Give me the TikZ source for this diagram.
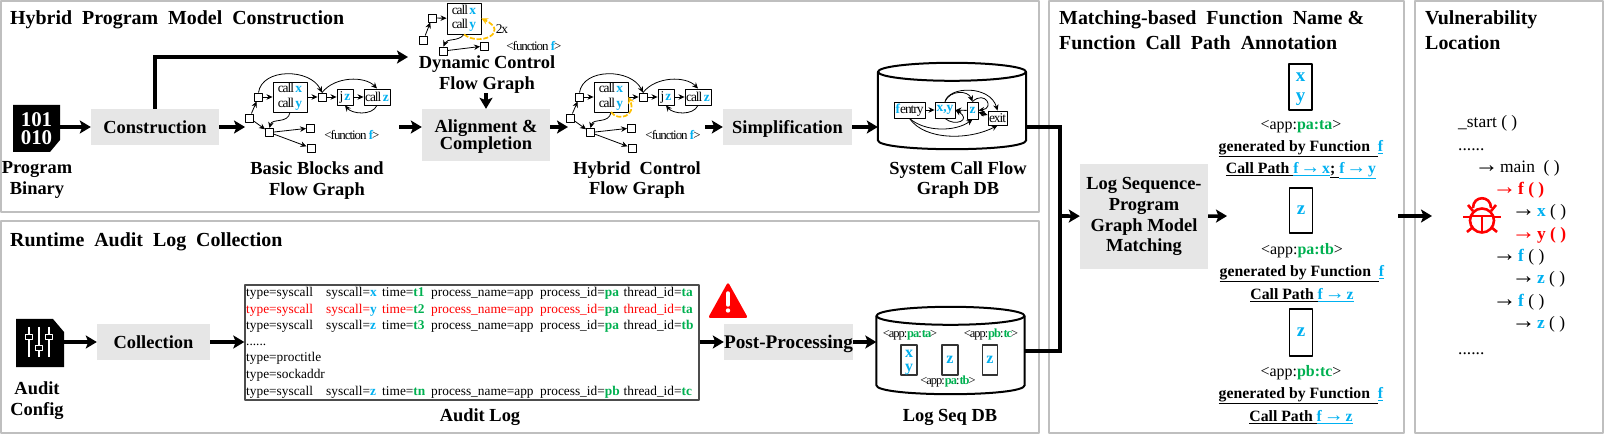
\documentclass[tikz,border=0pt]{standalone}
\usepackage{fontspec}
\setmainfont{Liberation Serif}
\newfontfamily\tightfont[LetterSpace=-8]{Liberation Serif}
\usetikzlibrary{arrows.meta}
\definecolor{fcblue}{HTML}{00B0F0}
\definecolor{idgreen}{HTML}{00B050}
\definecolor{loopcol}{HTML}{FFC000}
\definecolor{boxgray}{HTML}{E6E6E6}
\definecolor{panelgray}{HTML}{BFBFBF}
\newcommand{\fcn}[1]{\textcolor{fcblue}{\textbf{#1}}}
\newcommand{\idn}[1]{\textcolor{idgreen}{\textbf{#1}}}
\newcommand{\upath}[1]{\textcolor{fcblue}{\underline{\textbf{#1}}}}
\newcommand{\ublack}[1]{\underline{\textbf{#1}}}
\newcommand{\tarrow}{{\fontsize{24}{18}\selectfont\mdseries →}\hspace{1.6bp}}
\newcommand{\uarrow}{\makebox[15.8bp][c]{\fontsize{20}{17}\selectfont →}}
\newcommand{\callword}{{\tightfont call}\hspace{1.5bp}}
% one line of the audit log
\newcommand{\logrow}[7]{%
  \node[logtext,#7] (#1) at (246,#2) {\makebox[80bp][l]{type=syscall}\makebox[56bp][l]{syscall=\fcn{#3}}\makebox[49bp][l]{time=\idn{#4}}\makebox[109bp][l]{process\_name=app}\makebox[83.5bp][l]{process\_id=\idn{#5}}thread\_id=\idn{#6}};}
% outline of a database drum round a named node
\newcommand{\dbdrum}[1]{%
  \draw[dbline] ([yshift=-9bp]#1.north) ellipse [x radius=74bp,y radius=9bp];
  \draw[dbline] ([yshift=-9bp]#1.north west) -- ([yshift=9bp]#1.south west) .. controls ([yshift=-3bp]#1.south west) and ([yshift=-3bp]#1.south east) .. ([yshift=9bp]#1.south east) -- ([yshift=-9bp]#1.north east);}
% the flow graph shared by the static and the hybrid picture
\newcommand{\flowbody}{%
  \node[cfgnode] (n0) at (249.5,118) {};
  \node[cfgnode] (n1) at (258.5,97) {};
  \node[cfgbox,minimum width=34bp,minimum height=30bp,align=center] (calls) at (290,97) {\callword\fcn{x}\\\callword\fcn{y}};
  \node[cfgnode] (n2) at (322,97) {};
  \node[cfgbox,minimum width=16bp,minimum height=16bp] (jz) at (345,97) {j\hspace{1bp}\fcn{z}};
  \node[cfgbox,minimum width=26bp,minimum height=16bp] (callz) at (377,97) {\callword\fcn{z}};
  \node[cfgnode] (n3) at (269.5,132.5) {};
  \node[cfgnode] (n4) at (310.5,128) {};
  \node[cfgnode] (n5) at (311,148) {};
  \node[fnlabel] (fn) at (352,135) {<function \fcn{f}>};
  \draw[cfgedge] (n0) -- (n1);
  \draw[cfgedge] (n0) -- (n3);
  \draw[cfgedge] (n1) -- (calls);
  \draw[cfgedge] (calls) -- (n2);
  \draw[cfgedge] (n2) -- (jz);
  \draw[cfgedge] (jz) -- (callz);
  \draw[cfgedge] (n1.north) .. controls (262,68) and (310,68) .. (n2.north);
  \draw[cfgedge] (n2.north) .. controls (335,76) and (365,76) .. (callz.north);
  \draw[cfgedge] (callz.south) .. controls (372,116) and (352,114) .. (jz.south);
  \draw[cfgedge] (calls.south) .. controls (288,124) and (272,118) .. (n3.north);
  \draw[cfgedge] (n3) -- (n4);
  \draw[cfgedge] (n3) -- (n5);
}
\begin{document}
\begin{tikzpicture}[x=1bp,y=-1bp,>=latex,line join=bevel,
  panel/.style={draw=panelgray,line width=2bp},
  stepbox/.style={fill=boxgray,inner sep=0pt,align=center,font=\fontsize{18.5}{16}\selectfont\bfseries},
  onerow/.style={text height=14.3bp,text depth=2bp},
  caption/.style={inner sep=0pt,align=center,font=\fontsize{18.5}{20.7}\selectfont\bfseries},
  paneltitle/.style={inner sep=0pt,anchor=base west,align=left,font=\fontsize{20}{25.5}\selectfont\bfseries},
  flow/.style={line width=3.6bp,line join=miter,-{Stealth[length=11bp,width=13bp,inset=2.5bp]}},
  joinline/.style={line width=3.6bp,line join=miter},
  cfgnode/.style={draw,fill=white,line width=0.9bp,minimum size=8bp,inner sep=0pt},
  cfgbox/.style={draw,fill=white,line width=0.9bp,inner sep=0pt,font=\fontsize{13.5}{14.5}\selectfont},
  cfgedge/.style={line width=0.8bp,-{Stealth[length=6bp,width=5.5bp]}},
  loopedge/.style={draw=loopcol,line width=1.7bp,dash pattern=on 5bp off 1.8bp,-{Stealth[length=6.5bp,width=6.5bp]}},
  fnlabel/.style={inner sep=0pt,font=\fontsize{13}{14}\selectfont\tightfont},
  seqlabel/.style={inner sep=0pt,font=\fontsize{12.5}{14}\selectfont\tightfont},
  dbshape/.style={inner sep=0pt,minimum width=148bp},
  dbline/.style={line width=2bp},
  logtext/.style={inner sep=0pt,anchor=base west,font=\fontsize{13.4}{14}\selectfont},
  tracetext/.style={inner sep=0pt,anchor=base west,font=\fontsize{17.5}{18}\selectfont},
  appbox/.style={draw,line width=1.2bp,inner sep=0pt,minimum width=23bp,align=center,font=\fontsize{19}{20}\selectfont},
  seqbox/.style={draw=black!80,line width=1.2bp,inner sep=0pt,minimum height=30bp,align=center,font=\fontsize{16}{14}\selectfont},
  applabel/.style={inner sep=0pt,font=\fontsize{16}{17}\selectfont},
  annot/.style={inner sep=0pt,font=\fontsize{15.8}{17}\selectfont\bfseries}]
\useasboundingbox (0,0) rectangle (1606,435);
%% panels
\node[panel,minimum width=1038bp,minimum height=211bp,inner sep=0pt] (panelmodel) at (520,106.5) {};
\node[panel,minimum width=1038bp,minimum height=212bp,inner sep=0pt] (panellog) at (520,327) {};
\node[panel,minimum width=355bp,minimum height=432bp,inner sep=0pt] (panelmatch) at (1226.5,217) {};
\node[panel,minimum width=188bp,minimum height=432bp,inner sep=0pt] (panelvuln) at (1509,217) {};
\node[paneltitle] (titlemodel) at (10,25) {Hybrid~~Program~~Model~~Construction};
\node[paneltitle] (titlelog) at (10,247) {Runtime~~Audit~~Log~~Collection};
\node[paneltitle] (titlematch) at (1059,50) {Matching-based~~Function~~Name~\&\\Function~~Call~~Path~~Annotation};
\node[paneltitle] (titlevuln) at (1425,50) {Vulnerability\\Location};
%% upper row
  % Node: binary
\fill (13,105) -- (60,105) -- (60,140) -- (50,152) -- (13,152) -- cycle;
\node[inner sep=0pt,text=white,align=center,minimum width=47bp,minimum height=47bp,font=\fontsize{21}{17.5}\selectfont\bfseries] (binary) at (36.5,128.5) {101\\010};
\node[caption] (binarylabel) at (37,180) {Program\\Binary};
  % Node: construction
\node[stepbox,onerow,minimum width=128bp,minimum height=36bp] (construction) at (155,127) {Construction};
  % Node: static graph
\begin{scope}[name prefix=bb-]
\flowbody
\end{scope}
\node[caption] (bblabel) at (317,180.5) {Basic Blocks and\\Flow Graph};
  % Node: dynamic graph
\node[cfgbox,minimum width=34bp,minimum height=31bp,align=center] (dyncalls) at (464,18.5) {\callword\fcn{x}\\\callword\fcn{y}};
\node[cfgnode] (dyn0) at (423.5,40) {};
\node[cfgnode] (dyn1) at (432,18) {};
\node[cfgnode] (dyn2) at (443.5,51) {};
\node[cfgnode] (dyn3) at (484.5,46) {};
\node[fnlabel] (dynfn) at (534,46) {<function \fcn{f}>};
\node[inner sep=0pt,font=\fontsize{13.5}{14}\selectfont\tightfont] (dyntimes) at (502,29) {2x};
\draw[cfgedge] (dyn0) -- (dyn1);
\draw[cfgedge] (dyn1) -- (dyncalls);
\draw[cfgedge] (dyn2) -- (dyn3);
\draw[cfgedge] (dyncalls.south) .. controls (458,42) and (447,38) .. (dyn2.north);
\draw[loopedge] (dyncalls.south) .. controls (480,47) and (510,32) .. (dyncalls.east);
\node[caption] (dynlabel) at (487,74.5) {Dynamic Control\\Flow Graph};
\coordinate (dynin) at (408,57);
  % Node: alignment
\node[stepbox,minimum width=128bp,minimum height=52bp] (alignment) at (486,135) {\rule{0pt}{16bp}Alignment \&\\Completion};
\coordinate (bbout) at (399,127);
  % Node: hybrid graph
\begin{scope}[xshift=321bp,name prefix=hy-]
\flowbody
\draw[loopedge] (290,112) .. controls (297,122) and (316,116) .. (calls.east);
\end{scope}
\coordinate (hyin) at (568,127);
\coordinate (hyout) at (705,127);
\node[caption] (hylabel) at (637,180) {Hybrid~~Control\\Flow Graph};
  % Node: simplification
\node[stepbox,onerow,minimum width=129bp,minimum height=36bp] (simplify) at (787.5,127) {Simplification};
  % Node: call flow DB
\node[dbshape,minimum height=86bp] (scfgdb) at (952,106) {};
\dbdrum{scfgdb}
\node[cfgbox,minimum width=31bp,minimum height=16bp] (entry) at (909.5,110) {\fcn{f}{\tightfont entry}};
\node[cfgbox,minimum width=20bp,minimum height=16bp] (xybox) at (945,110) {\fcn{x,y}};
\node[cfgbox,minimum width=11bp,minimum height=17bp] (zbox) at (972.5,110.5) {\fcn{z}};
\node[cfgbox,minimum width=19bp,minimum height=14bp] (exitbox) at (997.5,118) {\tightfont exit};
\draw[cfgedge] (entry) -- (xybox);
\draw[cfgedge] (zbox) -- (xybox);
\draw[cfgedge] (xybox.north) .. controls (950,90) and (968,90) .. (zbox.north);
\draw[cfgedge] (xybox.north) .. controls (949,86) and (990,85) .. (exitbox.north);
\draw[cfgedge] (xybox.south) .. controls (955,127) and (972,120) .. (xybox.east);
\draw[cfgedge] (zbox.north) .. controls (985,90) and (995,108) .. (zbox.east);
\draw[cfgedge,{Stealth[length=6bp,width=5.5bp]}-{Stealth[length=6bp,width=5.5bp]}] (zbox) -- (exitbox);
\draw[cfgedge] (entry.south) .. controls (925,132) and (955,132) .. (zbox.south);
\draw[cfgedge] (entry.south) .. controls (925,141) and (970,140) .. (exitbox.south);
\node[caption] (scfglabel) at (958,180) {System Call Flow\\Graph DB};
%% lower row
  % Node: config
\fill (16,319) -- (53,319) -- (64,332) -- (64,367) -- (16,367) -- cycle;
\node[inner sep=0pt,minimum width=48bp,minimum height=48bp] (config) at (40,343) {};
\foreach \sx/\sy in {29/337,39/348,49/337} {
  \draw[white,line width=1.3bp] (\sx,327) -- (\sx,357);
  \draw[white,fill=black,line width=1.2bp] (\sx-3.5,\sy-2.5) rectangle (\sx+3.5,\sy+2.5);
}
\node[caption] (configlabel) at (37,400.5) {Audit\\Config};
  % Node: collection
\node[stepbox,onerow,minimum width=113bp,minimum height=35bp] (collection) at (153.5,342) {Collection};
  % Node: audit log
\node[draw=black!70,line width=1.4bp,inner sep=0pt,minimum width=454bp,minimum height=115bp] (auditlog) at (472,342.5) {};
\logrow{row1}{297}{x}{t1}{pa}{ta}{}
\logrow{row2}{314}{y}{t2}{pa}{ta}{text=red}
\logrow{row3}{330}{z}{t3}{pa}{tb}{}
\node[logtext] (rowdots) at (246,346) {......};
\node[logtext] (rowtitle) at (246,362) {type=proctitle};
\node[logtext] (rowsock) at (246,379) {type=sockaddr};
\logrow{row7}{395}{z}{tn}{pb}{tc}{}
\node[caption] (auditlabel) at (480,417) {Audit Log};
  % Node: warning
\fill[red,rounded corners=2.5bp] (728,282) -- (748,318) -- (708,318) -- cycle;
\draw[white,line width=3.5bp,line cap=round] (728,293) -- (728,305);
\fill[white] (728,310.5) circle (2.2bp);
  % Node: post processing
\node[stepbox,onerow,minimum width=129bp,minimum height=35bp,font=\fontsize{19.3}{16}\selectfont\bfseries] (postproc) at (788.5,342) {Post-Processing};
  % Node: log seq DB
\node[dbshape,minimum height=87bp] (seqdb) at (950.5,350.5) {};
\dbdrum{seqdb}
\node[seqlabel] (seqa) at (910,335) {<app:\idn{pa}:\idn{ta}>};
\node[seqlabel] (seqc) at (991,335) {<app:\idn{pb}:\idn{tc}>};
\node[seqlabel] (seqb) at (948,382) {<app:\idn{pa}:\idn{tb}>};
\node[seqbox,minimum width=16bp] (seqboxa) at (909,360) {\rule{0pt}{12.4bp}\fcn{x}\\\fcn{y}};
\node[seqbox,minimum width=16bp] (seqboxb) at (950,360) {\fcn{z}};
\node[seqbox,minimum width=15bp] (seqboxc) at (990,360) {\fcn{z}};
\node[caption] (seqlabel) at (950,417) {Log Seq DB};
%% matching panel
\node[stepbox,minimum width=128bp,minimum height=105bp,font=\fontsize{18.5}{21}\selectfont\bfseries] (matching) at (1144,216.5) {Log Sequence-\\Program\\Graph Model\\Matching};
\node[appbox,minimum height=46bp] (annota) at (1300.5,87) {\rule{0pt}{12.7bp}\fcn{x}\\\fcn{y}};
\node[applabel] (appa) at (1301,127) {<app:\idn{pa:ta}>};
\node[annot] (gena) at (1301,149) {\ublack{generated by Function~~}\upath{f}};
\node[annot] (patha) at (1301,171) {\ublack{Call Path~}\upath{f \uarrow{} x}\ublack{;~}\upath{f \uarrow{} y}};
\node[appbox,minimum height=45bp] (annotb) at (1301,210.5) {\fcn{z}};
\node[applabel] (appb) at (1302,251) {<app:\idn{pa:tb}>};
\node[annot] (genb) at (1302,274) {\ublack{generated by Function~~}\upath{f}};
\node[annot] (pathb) at (1302,295) {\ublack{Call Path~}\upath{f \uarrow{} z}};
\node[appbox,minimum height=47bp] (annotc) at (1301,332.5) {\fcn{z}};
\node[applabel] (appc) at (1301,373) {<app:\idn{pb:tc}>};
\node[annot] (genc) at (1301,396) {\ublack{generated by Function~~}\upath{f}};
\node[annot] (pathc) at (1301,417) {\ublack{Call Path~}\upath{f \uarrow{} z}};
%% location panel
\node[tracetext] (trace0) at (1458,128) {\_start ( )};
\node[tracetext] (trace1) at (1458,151) {......};
\node[tracetext] (trace2) at (1474.4,173) {\tarrow main~~( )};
\node[tracetext,text=red] (trace3) at (1492.4,195) {\tarrow\textbf{f ( )}};
\node[tracetext] (trace4) at (1511.4,217) {\tarrow\fcn{x} ( )};
\node[tracetext,text=red] (trace5) at (1511.4,240) {\tarrow\textbf{y ( )}};
\node[tracetext] (trace6) at (1492.4,262) {\tarrow\fcn{f} ( )};
\node[tracetext] (trace7) at (1511.4,284) {\tarrow\fcn{z} ( )};
\node[tracetext] (trace8) at (1492.4,307) {\tarrow\fcn{f} ( )};
\node[tracetext] (trace9) at (1511.4,329) {\tarrow\fcn{z} ( )};
\node[tracetext] (trace10) at (1458,355) {......};
  % Node: bug
\begin{scope}[draw=red,line width=2.6bp]
  \draw (1482,220.5) circle (12bp);
  \draw (1470,216) -- (1494,216);
  \draw (1482,216) -- (1482,232.5);
  \draw (1473,208) .. controls (1473,195) and (1491,195) .. (1491,208);
  \draw (1463,217) -- (1470,217);
  \draw (1494,217) -- (1501,217);
  \draw (1468,205) -- (1473,211);
  \draw (1496,205) -- (1491,211);
  \draw (1467,232) -- (1473,227);
  \draw (1497,232) -- (1491,227);
\end{scope}
\coordinate (tracein) at (1432,216);
\coordinate (traceout) at (1398,216);
\coordinate (annotin) at (1227,216);
\coordinate (dbjoin) at (1060,216);
%% arrows
  % Edge: binary -> construction
\draw[flow] (binary.east |- construction) -- (construction);
  % Edge: construction -> dynamic graph
\draw[flow] (construction.north) -- (dynin -| construction) -- (dynin);
  % Edge: construction -> static graph
\draw[flow] (construction) -- (bb-n0.west |- construction);
  % Edge: static graph -> alignment
\draw[flow] (bbout) -- (alignment.west |- bbout);
  % Edge: dynamic graph -> alignment
\draw[flow] (dynlabel.south -| alignment) -- (alignment);
  % Edge: alignment -> hybrid graph
\draw[flow] (alignment.east |- hyin) -- (hyin);
  % Edge: hybrid graph -> simplification
\draw[flow] (hyout) -- (simplify);
  % Edge: simplification -> call flow DB
\draw[flow] (simplify) -- (scfgdb.west |- simplify);
  % Edge: config -> collection
\draw[flow] (config.east |- collection) -- (collection);
  % Edge: collection -> audit log
\draw[flow] (collection) -- (auditlog.west |- collection);
  % Edge: audit log -> post processing
\draw[flow] (auditlog.east |- postproc) -- (postproc);
  % Edge: post processing -> log seq DB
\draw[flow] (postproc) -- (seqdb.west |- postproc);
  % Edge: call flow DB -> matching
\draw[joinline] (scfgdb.east |- simplify) -| (dbjoin);
  % Edge: log seq DB -> matching
\draw[joinline] (seqdb.east |- 0,351) -| (dbjoin);
\draw[flow] (dbjoin) -- (matching);
  % Edge: matching -> annotations
\draw[flow] (matching) -- (annotin);
  % Edge: annotations -> trace
\draw[flow] (traceout) -- (tracein);
\end{tikzpicture}
\end{document}
